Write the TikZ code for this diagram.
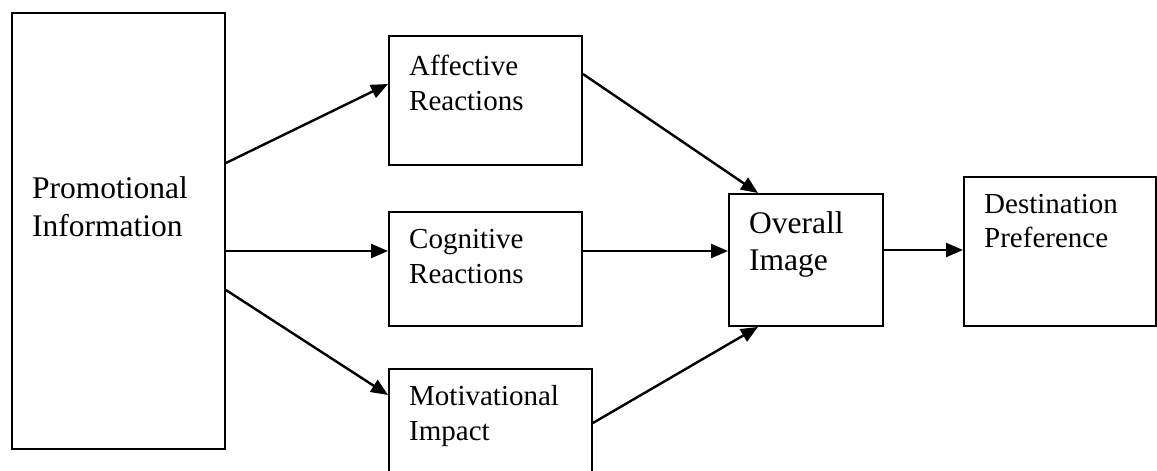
\documentclass[tikz,border=0pt]{standalone}
\usepackage{fontspec}
\setmainfont{Liberation Serif}
\usetikzlibrary{arrows.meta,calc}

\tikzset{
  box/.style={draw, line width=1.9pt, rectangle, inner sep=0pt, anchor=north west},
  lbl/.style={inner sep=0pt, anchor=base west},
  big/.style={font=\fontsize{31.5}{36}\selectfont},
  small/.style={font=\fontsize{29}{34}\selectfont},
  arr/.style={line width=2.4pt, -{Triangle[length=17pt,width=14pt]}}
}

\begin{document}
\begin{tikzpicture}[x=1pt,y=-1pt]
  \useasboundingbox (0,0) rectangle (1157,471);
  \clip (0,0) rectangle (1157,471);

  % boxes
  \node[box, minimum width=213pt, minimum height=436pt] (promo) at (11,12) {};
  \node[box, minimum width=193pt, minimum height=129pt] (aff) at (388,35) {};
  \node[box, minimum width=193pt, minimum height=114pt] (cog) at (388,211) {};
  \node[box, minimum width=203pt, minimum height=130pt] (mot) at (388,368) {};
  \node[box, minimum width=154pt, minimum height=132pt] (img) at (728,193) {};
  \node[box, minimum width=192pt, minimum height=149pt] (dest) at (963,176) {};

  % box texts
  \node[lbl, big] (promoA) at (32,198) {Promotional};
  \node[lbl, big] (promoB) at (32,236) {Information};
  \node[lbl, small] (affA) at (409,75) {Affective};
  \node[lbl, small] (affB) at (409,110) {Reactions};
  \node[lbl, small] (cogA) at (409,248) {Cognitive};
  \node[lbl, small] (cogB) at (409,283) {Reactions};
  \node[lbl, small] (motA) at (409,405) {Motivational};
  \node[lbl, small] (motB) at (409,440) {Impact};
  \node[lbl, big] (imgA) at (749,233) {Overall};
  \node[lbl, big] (imgB) at (749,270) {Image};
  \node[lbl, small] (destA) at (984,213) {Destination};
  \node[lbl, small] (destB) at (984,247) {Preference};

  % connectors
  \draw[arr] ($(promo.north east)+(0,151)$) -- ($(aff.north west)+(0,49)$);
  \draw[arr] ($(promo.north east)+(0,239)$) -- ($(cog.north west)+(0,40)$);
  \draw[arr] ($(promo.north east)+(0,278)$) -- ($(mot.north west)+(0,27)$);
  \draw[arr] ($(aff.north east)+(0,39)$) -- ($(img.north west)+(30,0)$);
  \draw[arr] ($(cog.north east)+(0,40)$) -- ($(img.north west)+(0,58)$);
  \draw[arr] ($(mot.north east)+(0,55)$) -- ($(img.south west)+(30,0)$);
  \draw[arr] ($(img.north east)+(0,57)$) -- ($(dest.north west)+(0,74)$);
\end{tikzpicture}
\end{document}
